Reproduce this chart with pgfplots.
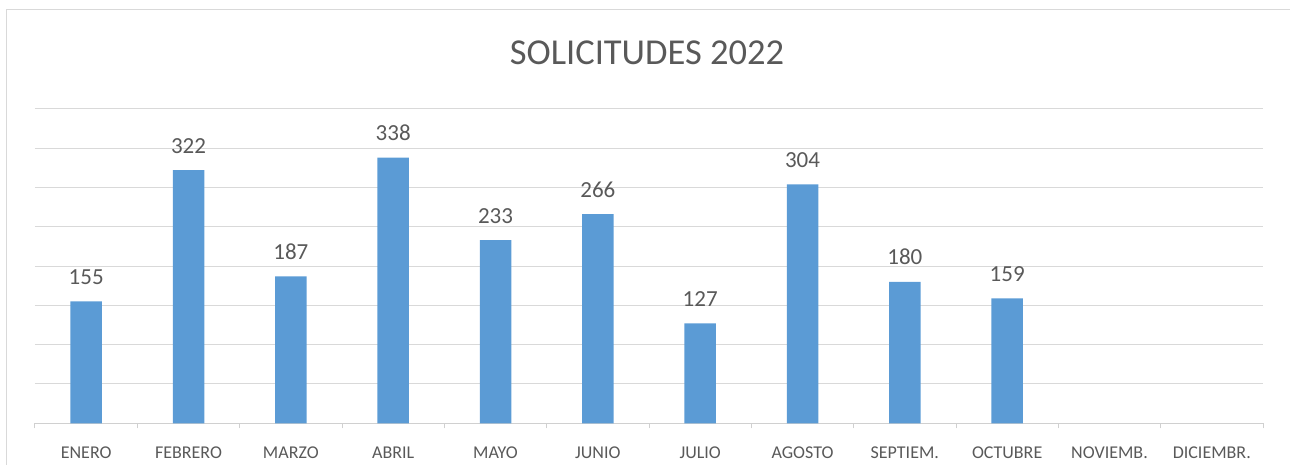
\documentclass[border=0pt]{standalone}
\usepackage{pgfplots}
\pgfplotsset{compat=1.18}
\usepackage{fontspec}
\setmainfont{Carlito}
\definecolor{barblue}{HTML}{5B9BD5}
\definecolor{txtgray}{HTML}{595959}
\definecolor{gridgray}{HTML}{D9D9D9}
\definecolor{axgray}{HTML}{D0D0D0}
\begin{document}
\begin{tikzpicture}[x=1pt,y=1pt]
\useasboundingbox (0,0) rectangle (1290,465);
\draw[gridgray, line width=1pt] (6,-5) -- (6,455) -- (1295,455);
\node[anchor=base, text=txtgray, font=\fontsize{36.5}{40}\selectfont] at (647,400) {SOLICITUDES 2022};
\begin{axis}[
  at={(35pt,41.7pt)}, anchor=south west,
  scale only axis, width=1228pt, height=314.4pt,
  xmin=-0.5, xmax=11.5, ymin=0, ymax=400,
  /pgf/number format/assume math mode=true,
  ytick={0,50,...,400}, yticklabels={},
  ymajorgrids, grid style={gridgray, line width=1pt},
  major y tick style={draw=none},
  axis x line*=bottom, axis y line*=left,
  y axis line style={draw=none},
  x axis line style={axgray, line width=1pt, -},
  xtick={0,...,11},
  xticklabels={ENERO,FEBRERO,MARZO,ABRIL,MAYO,JUNIO,JULIO,AGOSTO,SEPTIEM.,OCTUBRE,NOVIEMB.,DICIEMBR.},
  major x tick style={draw=none},
  minor xtick={-0.5,0.5,...,11.5},
  minor tick length=5pt, tick align=outside,
  minor x tick style={axgray, line width=1pt},
  xticklabel style={anchor=base, yshift=-31pt, text=txtgray, font=\fontsize{18}{20}\selectfont},
  ybar, bar width=31.5pt,
  nodes near coords,
  every node near coord/.append style={anchor=base, yshift=17pt, text=txtgray, font=\fontsize{23}{26}\selectfont},
  clip=false,
]
\addplot[fill=barblue, draw=none] coordinates {(0,155) (1,322) (2,187) (3,338) (4,233) (5,266) (6,127) (7,304) (8,180) (9,159)};
\end{axis}
\end{tikzpicture}
\end{document}
